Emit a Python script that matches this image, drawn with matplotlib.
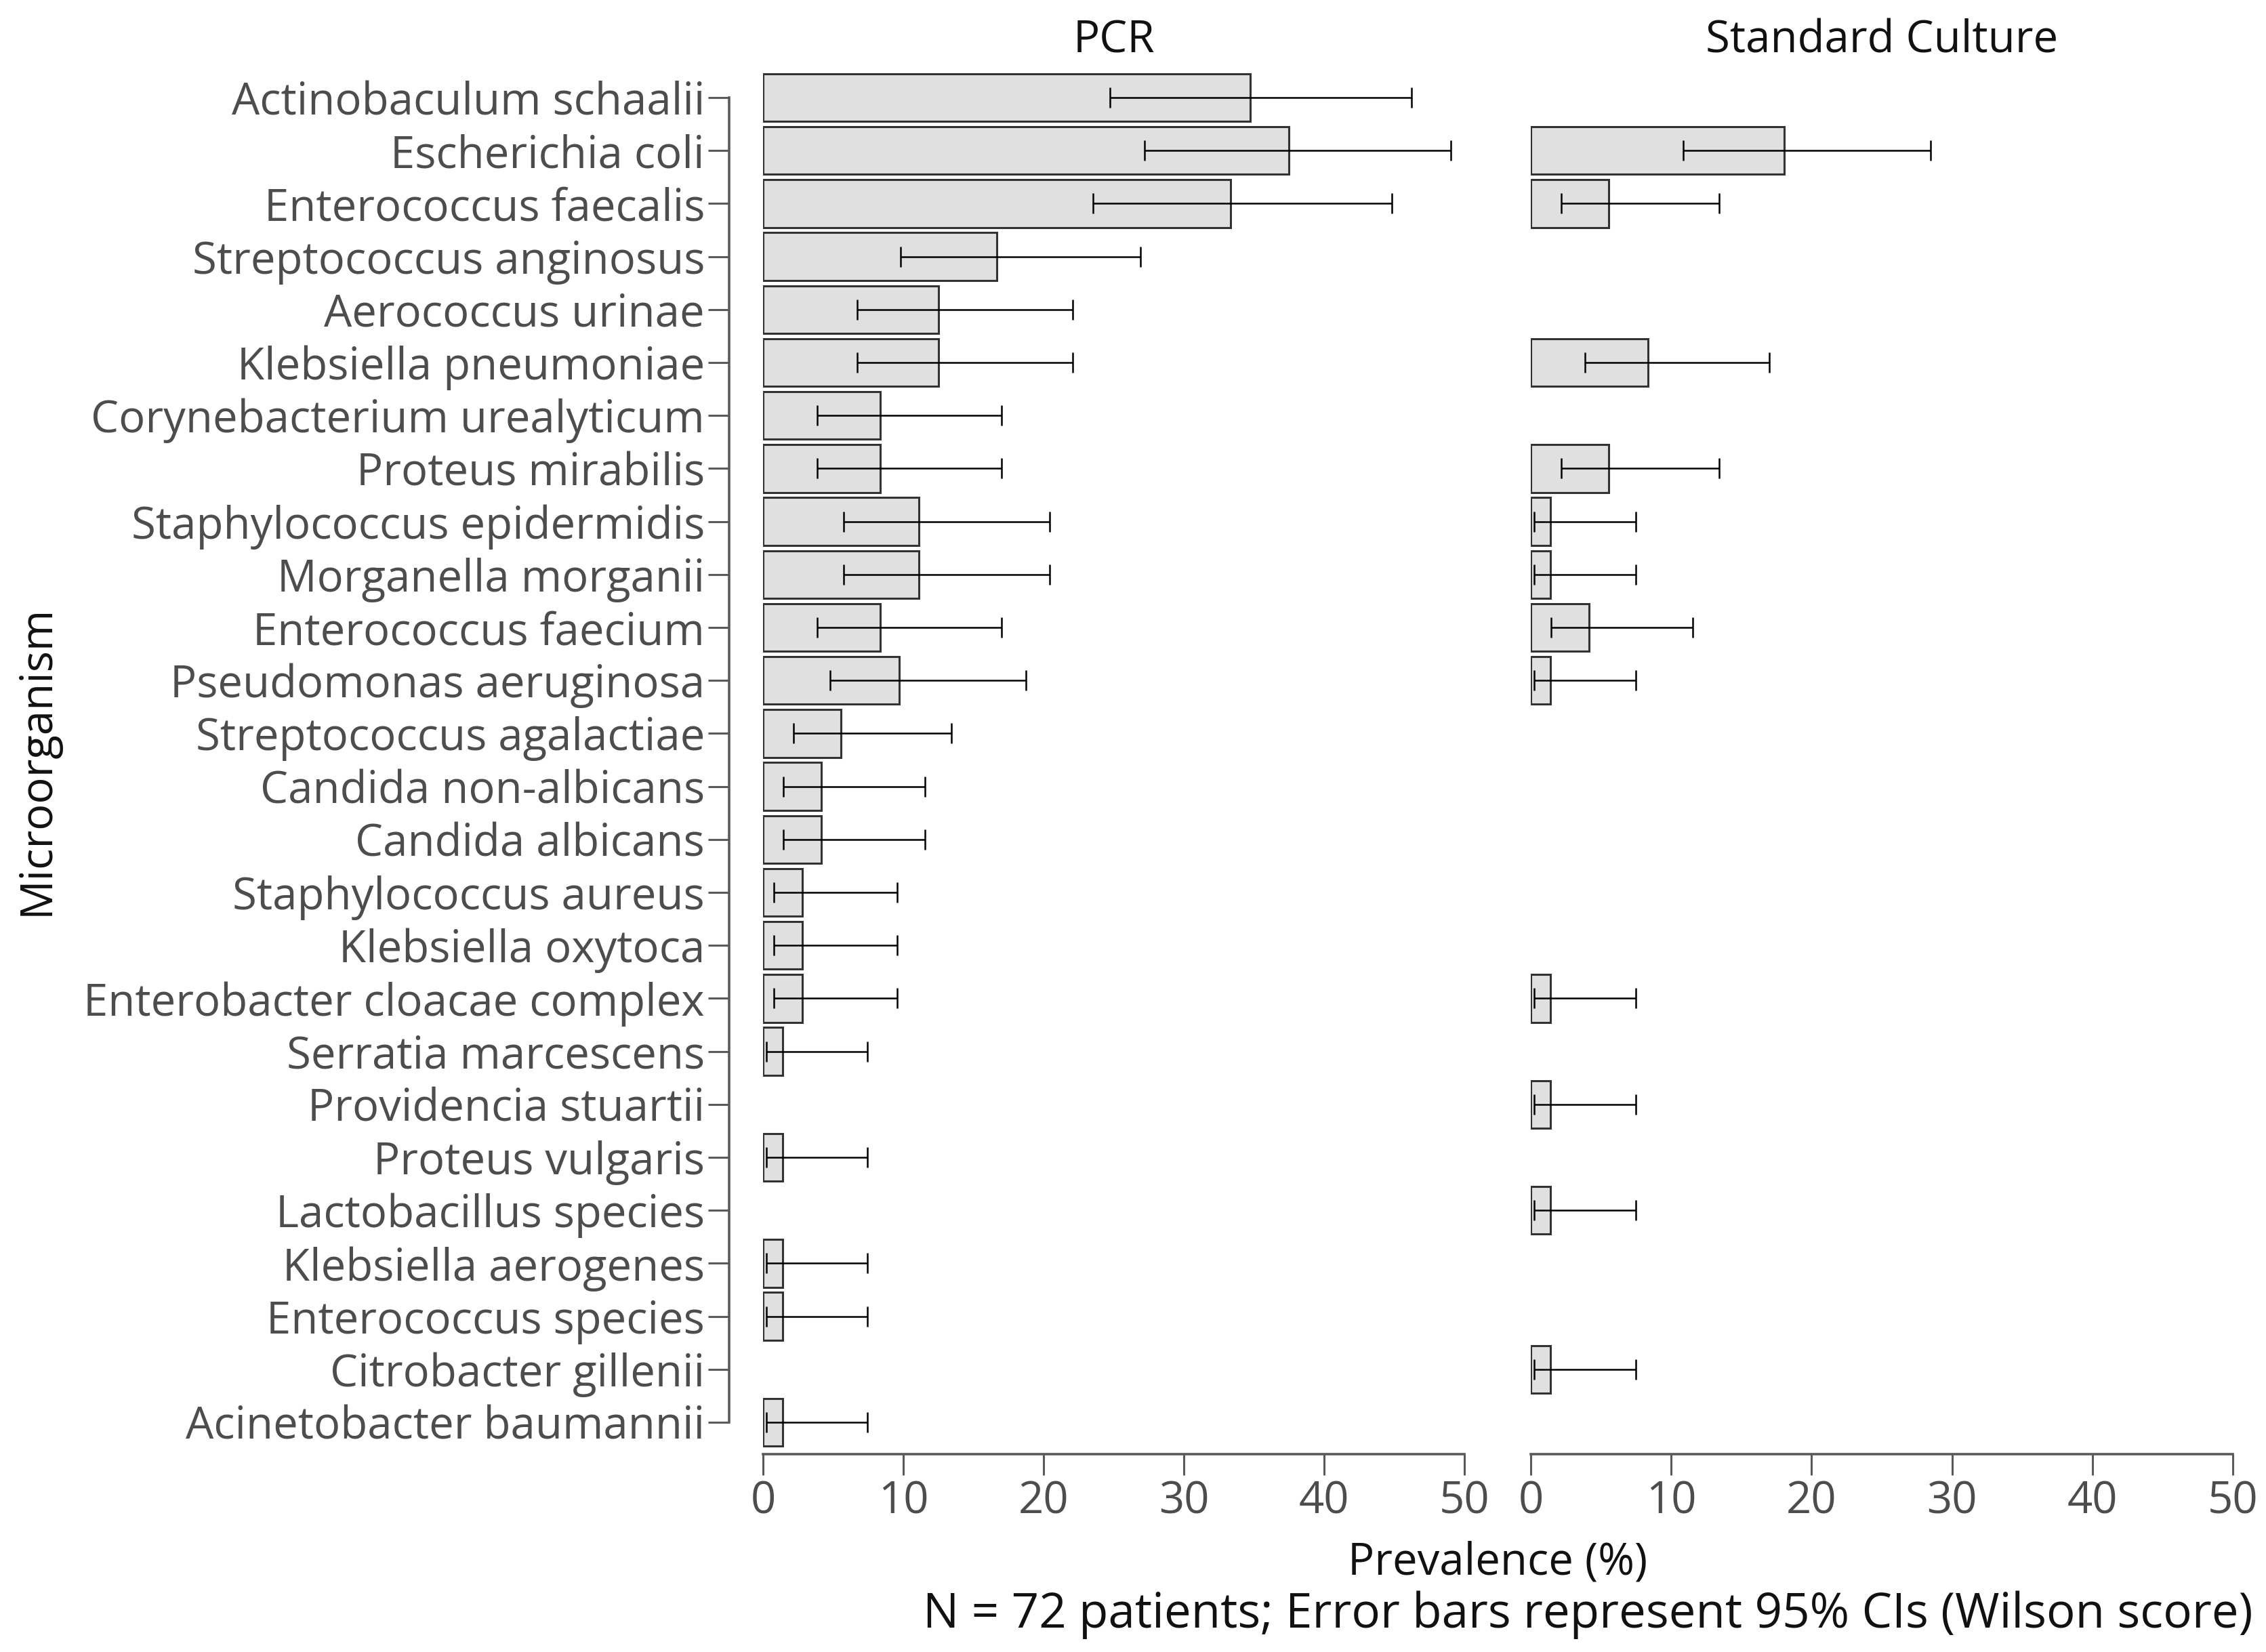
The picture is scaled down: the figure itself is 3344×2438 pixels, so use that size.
import numpy as np
import matplotlib.pyplot as plt

plt.rcParams['font.family'] = ['Open Sans', 'DejaVu Sans']

#--------------------------------------
n_patients = 72
organisms = ['Actinobaculum schaalii', 'Escherichia coli', 'Enterococcus faecalis',
             'Streptococcus anginosus', 'Aerococcus urinae', 'Klebsiella pneumoniae',
             'Corynebacterium urealyticum', 'Proteus mirabilis', 'Staphylococcus epidermidis',
             'Morganella morganii', 'Enterococcus faecium', 'Pseudomonas aeruginosa',
             'Streptococcus agalactiae', 'Candida non-albicans', 'Candida albicans',
             'Staphylococcus aureus', 'Klebsiella oxytoca', 'Enterobacter cloacae complex',
             'Serratia marcescens', 'Providencia stuartii', 'Proteus vulgaris',
             'Lactobacillus species', 'Klebsiella aerogenes', 'Enterococcus species',
             'Citrobacter gillenii', 'Acinetobacter baumannii']
# positive patients per method
pcr_counts     = [25, 27, 24, 12, 9, 9, 6, 6, 8, 8, 6, 7, 4, 3, 3, 2, 2, 2, 1, 0, 1, 0, 1, 1, 0, 1]
culture_counts = [0, 13, 4, 0, 0, 6, 0, 4, 1, 1, 3, 1, 0, 0, 0, 0, 0, 1, 0, 1, 0, 1, 0, 0, 1, 0]
panels = ['PCR', 'Standard Culture']
xticks = [0, 10, 20, 30, 40, 50]

def wilson(k, n, z=1.959964):
    p = k / n
    den = 1 + z**2 / n
    mid = (p + z**2 / (2 * n)) / den
    half = z * np.sqrt(p * (1 - p) / n + z**2 / (4 * n**2)) / den
    return (mid - half) * 100, (mid + half) * 100

#--------------------------------------
W, H = 3344, 2438
dpi = 200
fig = plt.figure(figsize=(W / dpi, H / dpi), dpi=dpi)

tick_col = '#4d4d4d'
text_col = '#111111'
spine_col = '#5a5a5a'
fs = 23.5

bottom = 1 - 2138 / H
height = (2138 - 105) / H
axL = fig.add_axes([1126 / W, bottom, (2161 - 1126) / W, height])
axR = fig.add_axes([2259 / W, bottom, (3295 - 2259) / W, height])

y = np.arange(len(organisms))
for ax, counts, title in zip([axL, axR], [pcr_counts, culture_counts], panels):
    counts = np.array(counts)
    keep = counts > 0
    vals = counts[keep] / n_patients * 100
    lo, hi = wilson(counts[keep], n_patients)
    ax.barh(y[keep], vals, height=0.9, color='#e0e0e0', edgecolor='#333333', linewidth=1.1)
    ax.errorbar(vals, y[keep], xerr=[vals - lo, hi - vals], fmt='none', ecolor='black',
                elinewidth=0.9, capsize=5.5, capthick=0.9)
    ax.set_xlim(0, 50)
    ax.set_ylim(len(organisms) - 0.5, -0.5)
    ax.set_xticks(xticks)
    ax.spines['top'].set_visible(False)
    ax.spines['right'].set_visible(False)
    ax.spines['bottom'].set_bounds(0, 50)
    ax.spines['bottom'].set_position(('outward', 3))
    ax.spines['bottom'].set_color(spine_col)
    ax.spines['bottom'].set_linewidth(1.3)
    ax.tick_params(axis='x', length=11, width=1.1, color=spine_col, labelsize=fs,
                   labelcolor=tick_col, pad=2.5)
    box = ax.get_position()
    fig.text((box.x0 + box.x1) / 2, 1 - 77 / H, title, ha='center', va='baseline',
             fontsize=fs, color=text_col)

axL.set_yticks(y, organisms)
axL.spines['left'].set_bounds(0, len(organisms) - 1)
axL.spines['left'].set_position(('outward', 18))
axL.spines['left'].set_color(spine_col)
axL.spines['left'].set_linewidth(1.3)
axL.tick_params(axis='y', length=11, width=1.1, color=spine_col, labelsize=fs,
                labelcolor=tick_col, pad=2)
axR.spines['left'].set_visible(False)
axR.set_yticks([])

fig.text((1126 + 3295) / 2 / W, 1 - 2323 / H, 'Prevalence (%)', ha='center', va='baseline',
         fontsize=fs, color=text_col)
fig.text(3325 / W, 1 - 2402 / H, 'N = 72 patients; Error bars represent 95% CIs (Wilson score)',
         ha='right', va='baseline', fontsize=25.5, color=text_col)
fig.text(55 / W, bottom + height / 2, 'Microorganism', rotation=90,
         ha='center', va='center', fontsize=fs, color=text_col)

fig.savefig('out.png', dpi=dpi)
